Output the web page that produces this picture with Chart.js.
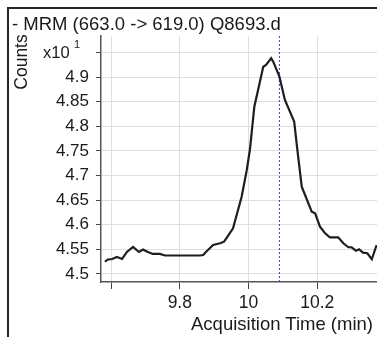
<!DOCTYPE html>
<html>
<head>
<meta charset="utf-8">
<script src="https://cdn.jsdelivr.net/npm/chart.js@4/dist/chart.umd.min.js"></script>
<style>
  html, body { margin:0; padding:0; background:#fff; }
  #wrap { position:relative; width:377px; height:337px; overflow:hidden; font-family:"Liberation Sans", Arial, sans-serif; color:#1a1a1a; }
  #c { position:absolute; left:0; top:0; }
  .frame-top { position:absolute; left:7px; top:7px; width:370px; height:2px; background:#262626; }
  .frame-left { position:absolute; left:7px; top:7px; width:2px; height:330px; background:#262626; }
  .txt { position:absolute; white-space:nowrap; }
</style>
</head>
<body>
<div id="wrap">
  <canvas id="c" width="377" height="337"></canvas>
  <div class="frame-top"></div>
  <div class="frame-left"></div>
  <div class="txt" id="title" style="left:12px; top:15px; font-size:18.5px; line-height:18.5px;">- MRM (663.0 -&gt; 619.0) Q8693.d</div>
  <div class="txt" id="ytitle" style="left:21.5px; top:62px; font-size:17.5px; line-height:17.5px; transform:translate(-50%,-50%) rotate(-90deg);">Counts</div>
  <div class="txt" id="mult" style="left:43px; top:44px; font-size:16.5px; line-height:16.5px;">x10</div>
  <div class="txt" id="multexp" style="left:74px; top:39px; font-size:11px; line-height:11px;">1</div>
  <div class="txt" id="xtitle" style="right:4px; top:315px; font-size:18.5px; line-height:18.5px;">Acquisition Time (min)</div>
</div>
<script>
// Acquisition time (min)
const times = [9.582, 9.591, 9.603, 9.617, 9.632, 9.646, 9.664, 9.681, 9.693, 9.707,
               9.722, 9.742, 9.757, 9.801, 9.859, 9.868, 9.876, 9.897, 9.917, 9.929,
               9.955, 9.980, 9.995, 10.004, 10.017, 10.043, 10.051, 10.066, 10.072, 10.090,
               10.106, 10.133, 10.142, 10.155, 10.184, 10.194, 10.208, 10.223, 10.237, 10.261,
               10.276, 10.291, 10.300, 10.313, 10.322, 10.333, 10.346, 10.359, 10.373];
// Counts (x10^1)
const counts = [4.525, 4.5295, 4.5305, 4.5346, 4.5305, 4.5447, 4.5549, 4.5447, 4.5498, 4.5447,
                4.5407, 4.5407, 4.5376, 4.5376, 4.5376, 4.5386, 4.5447, 4.559, 4.5624, 4.5657,
                4.5929, 4.6571, 4.7114, 4.752, 4.840, 4.9213, 4.9248, 4.9384, 4.9315, 4.901,
                4.8537, 4.8096, 4.754, 4.6775, 4.6266, 4.6234, 4.5961, 4.5827, 4.5746, 4.5746,
                4.5624, 4.5543, 4.5543, 4.5474, 4.5502, 4.5433, 4.5421, 4.5299, 4.5589];
const markerTime = [10.09];
const xTicks = [9.6, 9.8, 10.0, 10.2];
const xTickLabels = ['', '9.8', '10', '10.2'];
const yTicks = [4.5, 4.55, 4.6, 4.65, 4.7, 4.75, 4.8, 4.85, 4.9, 4.95];
const yTickLabels = ['4.5', '4.55', '4.6', '4.65', '4.7', '4.75', '4.8', '4.85', '4.9', ''];
const xRange = [9.5706, 10.3741];
const yRange = [4.4837, 4.9837];

const lineData = times.map((t, i) => ({x: t, y: counts[i]}));
const markerData = [{x: markerTime[0], y: yRange[0]}, {x: markerTime[0], y: yRange[1]}];

new Chart(document.getElementById('c'), {
  type: 'line',
  data: {
    datasets: [
      { data: lineData, borderColor: '#1e1e1e', borderWidth: 2.2, pointRadius: 0, tension: 0, fill: false },
      { data: markerData, borderColor: '#3346a8', borderWidth: 1, borderDash: [2, 2], pointRadius: 0, fill: false }
    ]
  },
  options: {
    responsive: false,
    animation: false,
    devicePixelRatio: 1,
    layout: { padding: { top: 36, left: 0, right: 0, bottom: 0 } },
    plugins: { legend: { display: false }, tooltip: { enabled: false }, title: { display: false } },
    scales: {
      x: {
        type: 'linear',
        min: xRange[0], max: xRange[1],
        afterBuildTicks: s => { s.ticks = xTicks.map(v => ({value: v})); },
        afterFit: s => { s.height = 55; },
        ticks: {
          autoSkip: false, maxRotation: 0, padding: 4, color: '#1a1a1a',
          font: { family: '"Liberation Sans", Arial, sans-serif', size: 17.5 },
          callback: (v) => { const i = xTicks.findIndex(t => Math.abs(t - v) < 1e-6); return i >= 0 ? xTickLabels[i] : ''; }
        },
        grid: { color: '#dedede', lineWidth: 1, drawTicks: true, tickLength: 7, tickColor: '#444' },
        border: { display: true, color: '#555', width: 1.5 }
      },
      y: {
        type: 'linear',
        min: yRange[0], max: yRange[1],
        afterBuildTicks: s => { s.ticks = yTicks.map(v => ({value: v})); },
        afterFit: s => { s.width = 101; },
        ticks: {
          autoSkip: false, padding: 7, color: '#1a1a1a',
          font: { family: '"Liberation Sans", Arial, sans-serif', size: 17 },
          callback: (v) => { const i = yTicks.findIndex(t => Math.abs(t - v) < 1e-6); return i >= 0 ? yTickLabels[i] : ''; }
        },
        grid: { color: '#dedede', lineWidth: 1, drawTicks: true, tickLength: 5, tickColor: '#444' },
        border: { display: true, color: '#555', width: 1.5 }
      }
    }
  }
});
</script>
</body>
</html>
